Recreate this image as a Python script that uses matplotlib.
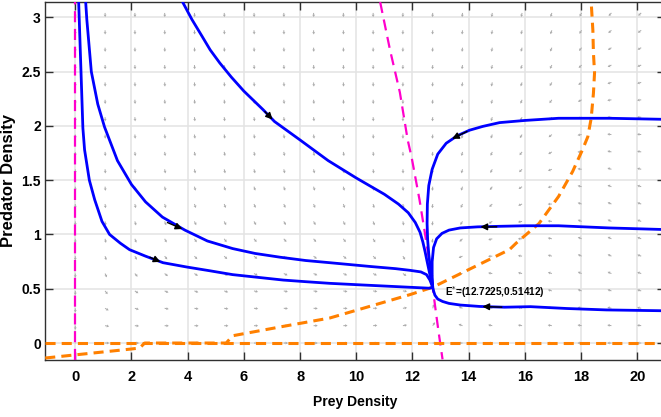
import matplotlib.pyplot as plt
import numpy as np

plt.rcParams['font.family'] = ['Liberation Sans', 'DejaVu Sans']

# trajectories (prey, predator)
t1_x = [0.12, 0.19, 0.27, 0.33, 0.5, 0.69, 0.95, 1.22, 1.6, 1.93, 2.5, 3.12, 3.97, 4.8, 5.6, 6.5, 7.4, 8.2, 9.05, 10.2, 11.4, 12.2, 12.6, 12.72]
t1_y = [3.14, 2.6, 1.98, 1.78, 1.5, 1.32, 1.12, 1.0, 0.92, 0.86, 0.8, 0.74, 0.70, 0.665, 0.63, 0.605, 0.58, 0.565, 0.55, 0.535, 0.52, 0.51, 0.505, 0.514]

t2_x = [0.37, 0.41, 0.57, 0.8, 1.04, 1.5, 2.0, 2.5, 3.1, 3.9, 4.7, 5.6, 6.4, 7.3, 8.2, 9.05, 10.5, 11.4, 11.9, 12.3, 12.5, 12.62, 12.72]
t2_y = [3.14, 2.98, 2.5, 2.2, 1.99, 1.68, 1.46, 1.3, 1.16, 1.04, 0.94, 0.87, 0.825, 0.79, 0.76, 0.74, 0.705, 0.685, 0.67, 0.655, 0.63, 0.58, 0.514]

t3_x = [3.82, 4.15, 4.5, 4.8, 5.14, 5.55, 6.0, 6.68, 7.09, 8.0, 9.0, 10.0, 11.0, 11.5, 11.85, 12.1, 12.27, 12.37, 12.45, 12.53, 12.62, 12.69, 12.72]
t3_y = [3.14, 2.98, 2.83, 2.7, 2.58, 2.45, 2.32, 2.15, 2.04, 1.87, 1.68, 1.52, 1.37, 1.28, 1.2, 1.11, 1.02, 0.93, 0.84, 0.74, 0.63, 0.55, 0.514]

t4_x = [21.0, 19.0, 17.2, 16.0, 15.1, 14.5, 14.03, 13.6, 13.2, 12.9, 12.7, 12.58, 12.53, 12.52, 12.54, 12.58, 12.63, 12.68, 12.72]
t4_y = [2.06, 2.07, 2.07, 2.05, 2.03, 1.995, 1.96, 1.91, 1.84, 1.74, 1.6, 1.45, 1.28, 1.1, 0.95, 0.82, 0.7, 0.6, 0.514]

t5_x = [21.0, 19.0, 17.2, 16.0, 15.1, 14.32, 13.7, 13.3, 13.05, 12.86, 12.75, 12.7, 12.7, 12.72]
t5_y = [1.045, 1.06, 1.08, 1.08, 1.075, 1.07, 1.06, 1.04, 1.01, 0.96, 0.88, 0.75, 0.62, 0.514]

t6_x = [21.0, 18.9, 17.5, 16.2, 15.28, 14.39, 13.7, 13.3, 13.07, 12.9, 12.8, 12.75, 12.72]
t6_y = [0.297, 0.305, 0.318, 0.335, 0.33, 0.337, 0.35, 0.365, 0.383, 0.405, 0.44, 0.48, 0.514]

# direction markers on trajectories: (tail, tip)
arrow_tails = [(2.57, 0.80), (3.19, 1.12), (6.68, 2.15), (14.03, 1.96), (15.1, 1.07), (15.28, 0.33)]
arrow_tips = [(3.12, 0.737), (3.9, 1.04), (7.09, 2.04), (13.32, 1.87), (14.32, 1.07), (14.39, 0.337)]

# nullclines
prey_null_x = [10.85, 11.2, 11.55, 11.83, 11.97, 12.25, 12.45, 12.6, 12.72, 12.8, 12.93, 13.07]
prey_null_y = [3.14, 2.7, 2.31, 1.87, 1.71, 1.32, 1.0, 0.75, 0.514, 0.35, 0.1, -0.15]

pred_null_x = [-1.07, 1.99, 2.29, 2.47, 5.37, 5.6, 7.39, 9.05, 11.9, 12.72, 15.45, 15.69, 16.5, 17.2, 17.7, 18.05, 18.24, 18.36, 18.44, 18.48, 18.44, 18.42, 18.36]
pred_null_y = [-0.138, -0.055, -0.046, 0.0, 0.0, 0.067, 0.153, 0.23, 0.445, 0.514, 0.86, 0.92, 1.1, 1.35, 1.58, 1.78, 1.90, 2.07, 2.30, 2.49, 2.67, 2.88, 3.14]

eq_x, eq_y = 12.7225, 0.51412

fig = plt.figure(figsize=(6.61, 4.17), dpi=100)
ax = fig.add_axes([0.068, 0.137, 0.9386, 0.858])
ax.set_xlim(-1.08, 21.0)
ax.set_ylim(-0.155, 3.14)

# direction field
qx, qy = np.meshgrid(np.linspace(0, 21.2, 21), np.linspace(0, 3.2, 21))
xn = np.interp(qy, prey_null_y[::-1], prey_null_x[::-1])
order = np.argsort(pred_null_x[:18])
yn = np.interp(qx, np.array(pred_null_x[:18])[order], np.array(pred_null_y[:18])[order])
du = qx * (xn - qx) * 28.1
dv = 15 * qy * (yn - qy) * 108.6
mag = np.hypot(du, dv)
mag[mag == 0] = 1
ax.quiver(qx, qy, du / mag, dv / mag, angles='uv', scale_units='inches', scale=24,
          color='#ababab', width=0.0016, headwidth=3, headlength=2.5, headaxislength=2.2, zorder=1)

ax.axvline(0, color='#ff00cc', lw=1.6, dashes=(5, 3), zorder=3)
ax.plot(prey_null_x, prey_null_y, color='#ff00cc', lw=1.6, dashes=(5, 3), zorder=3)
ax.axhline(0, color='#ff8000', lw=2.2, dashes=(3.3, 2), zorder=3)
ax.plot(pred_null_x, pred_null_y, color='#ff8000', lw=2.2, dashes=(3.3, 2), zorder=3)

for tx, ty in [(t1_x, t1_y), (t2_x, t2_y), (t3_x, t3_y), (t4_x, t4_y), (t5_x, t5_y), (t6_x, t6_y)]:
    ax.plot(tx, ty, color='#0000ff', lw=2.0, zorder=4, solid_capstyle='round')

for tail, tip in zip(arrow_tails, arrow_tips):
    ax.annotate('', xy=tip, xytext=tail,
                arrowprops=dict(arrowstyle='-|>', color='k', lw=1.0, mutation_scale=10), zorder=5)

ax.text(13.14, 0.47, 'E$^{*}$=(' + str(eq_x) + ',' + str(eq_y) + ')', fontsize=7.2, fontweight='bold',
        va='center', ha='left', zorder=6)

ax.set_xticks(range(0, 21, 2))
ax.set_yticks([0, 0.5, 1, 1.5, 2, 2.5, 3])
ax.set_yticklabels(['0', '0.5', '1', '1.5', '2', '2.5', '3'])
ax.grid(True, color='#e3e3e3', lw=1.1)
ax.set_axisbelow(True)
ax.tick_params(direction='in', top=True, right=True, length=6, width=1, color='#303030',
               labelsize=10.5, pad=7)
ax.tick_params(axis='y', pad=3, labelsize=10)
for lab in ax.get_xticklabels() + ax.get_yticklabels():
    lab.set_fontweight('bold')
for s in ax.spines.values():
    s.set_color('#303030')
    s.set_linewidth(1)

ax.set_xlabel('Prey Density', fontsize=10, fontweight='bold', labelpad=8)
ax.set_ylabel('Predator Density', fontsize=12, fontweight='bold')
ax.yaxis.set_label_coords(-0.046, 0.5)

fig.savefig('out.png', dpi=100)
